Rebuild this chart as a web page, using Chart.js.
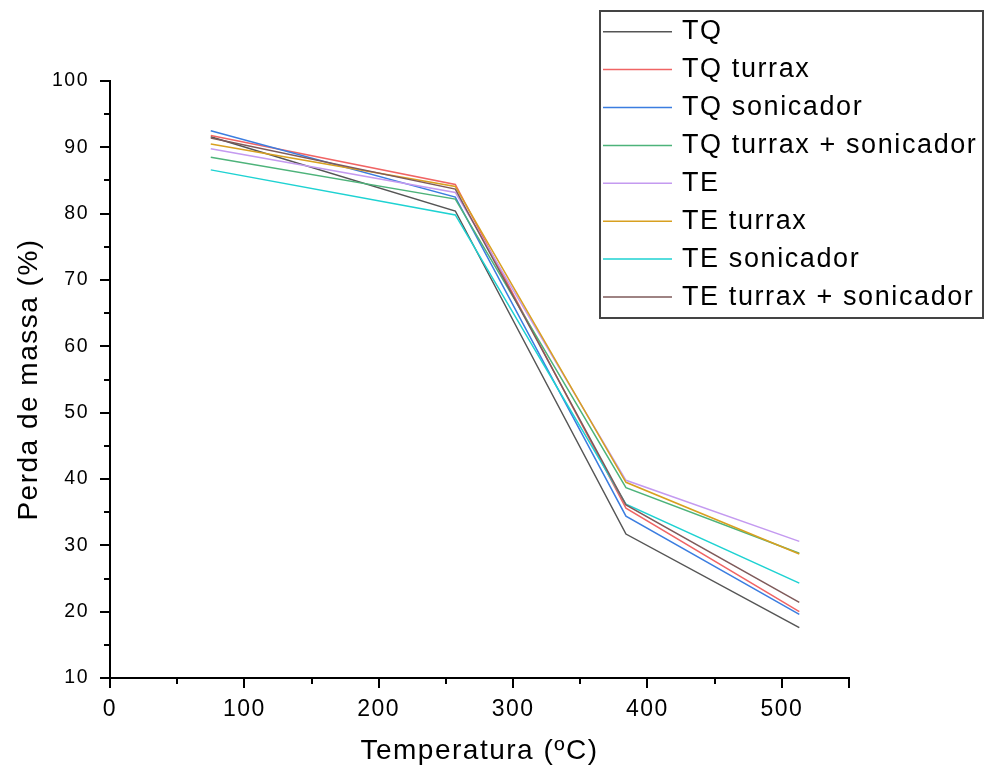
<!DOCTYPE html>
<html>
<head>
  <meta charset="utf-8">
  <title>Perda de massa</title>
  <script src="https://cdn.jsdelivr.net/npm/chart.js@4"></script>
  <style>
    html, body { margin: 0; padding: 0; background: #fff; }
    #wrap { width: 984px; height: 771px; }
  </style>
</head>
<body>
  <div id="wrap"><canvas id="c" width="984" height="771"></canvas></div>
  <script>
    // temperatures (ºC) of each step
    const temps = [75, 257, 384, 513];

    const labels = [
      'TQ', 'TQ turrax', 'TQ sonicador', 'TQ turrax + sonicador',
      'TE', 'TE turrax', 'TE sonicador', 'TE turrax + sonicador'
    ];

    const tq = [91.6, 80.4, 31.7, 17.6];
    const tqTurrax = [91.8, 84.4, 35.6, 20.0];
    const tqSonicador = [92.5, 82.5, 34.4, 19.6];
    const tqTurraxSon = [88.5, 82.2, 38.7, 28.8];
    const te = [89.8, 83.2, 39.8, 30.6];
    const teTurrax = [90.5, 84.1, 39.5, 28.7];
    const teSonicador = [86.6, 79.8, 36.2, 24.3];
    const teTurraxSon = [91.4, 83.7, 36.1, 21.4];

    const series = [tq, tqTurrax, tqSonicador, tqTurraxSon, te, teTurrax, teSonicador, teTurraxSon];
    const colors = ['#555555', '#f06464', '#3b7de0', '#4db37a', '#c49af0', '#d8a020', '#1ed2d2', '#7e5a5a'];

    const xTicks = [0, 100, 200, 300, 400, 500];
    const yTicks = [10, 20, 30, 40, 50, 60, 70, 80, 90, 100];

    const FONT = 'Arial, "Liberation Sans", sans-serif';
    const AREA = { left: 110, right: 849, top: 81, bottom: 678 };

    const spacing = {
      id: 'spacing',
      beforeUpdate(chart) { chart.ctx.letterSpacing = '1.5px'; },
      beforeDraw(chart) { chart.ctx.letterSpacing = '1.5px'; }
    };

    // major + minor tick marks pointing outward
    const tickMarks = {
      id: 'tickMarks',
      afterDraw(chart) {
        const { ctx, scales: { x, y } } = chart;
        ctx.save();
        ctx.strokeStyle = '#000';
        ctx.lineWidth = 2;
        ctx.beginPath();
        for (let v = 0; v <= 550; v += 50) {
          const px = Math.round(x.getPixelForValue(v));
          const len = (v % 100 === 0 || v === 550) ? 10 : 6;
          ctx.moveTo(px, AREA.bottom);
          ctx.lineTo(px, AREA.bottom + len);
        }
        for (let v = 10; v <= 100; v += 5) {
          const py = Math.round(y.getPixelForValue(v));
          const len = v % 10 === 0 ? 10 : 6;
          ctx.moveTo(AREA.left, py);
          ctx.lineTo(AREA.left - len, py);
        }
        ctx.stroke();
        ctx.restore();
      }
    };

    const boxLegend = {
      id: 'boxLegend',
      afterDraw(chart) {
        const ctx = chart.ctx;
        ctx.save();
        ctx.fillStyle = '#fff';
        ctx.fillRect(600, 11, 383, 307);
        ctx.strokeStyle = '#444';
        ctx.lineWidth = 2;
        ctx.strokeRect(600, 11, 383, 307);
        ctx.font = '27px ' + FONT;
        ctx.letterSpacing = '1.6px';
        ctx.textBaseline = 'alphabetic';
        chart.data.datasets.forEach((ds, i) => {
          const ly = 31.7 + i * 37.9;
          ctx.strokeStyle = ds.borderColor;
          ctx.lineWidth = 1.5;
          ctx.beginPath();
          ctx.moveTo(603, ly);
          ctx.lineTo(672, ly);
          ctx.stroke();
          ctx.fillStyle = '#000';
          ctx.fillText(ds.label, 682, ly + 7.6);
        });
        ctx.restore();
      }
    };

    new Chart(document.getElementById('c'), {
      type: 'line',
      data: {
        datasets: series.map((s, i) => ({
          label: labels[i],
          data: s.map((v, j) => ({ x: temps[j], y: v })),
          borderColor: colors[i],
          backgroundColor: colors[i],
          borderWidth: 1.5,
          pointRadius: 0,
          tension: 0,
          order: -i
        }))
      },
      options: {
        responsive: false,
        animation: false,
        layout: { padding: { top: AREA.top, right: 984 - AREA.right, left: 0, bottom: 0 } },
        plugins: { legend: { display: false }, tooltip: { enabled: false } },
        scales: {
          x: {
            type: 'linear',
            min: 0,
            max: 550,
            afterBuildTicks: (s) => { s.ticks = xTicks.map(v => ({ value: v })); },
            afterFit: (s) => { s.height = 771 - AREA.bottom; },
            grid: { display: false },
            border: { display: true, color: '#000', width: 2 },
            ticks: { color: '#000', font: { family: FONT, size: 23 }, padding: 10, maxRotation: 0 },
            title: {
              display: true, text: 'Temperatura (ºC)', color: '#000',
              font: { family: FONT, size: 28 }, padding: { top: 0, bottom: 3 }
            }
          },
          y: {
            type: 'linear',
            min: 10,
            max: 100,
            afterBuildTicks: (s) => { s.ticks = yTicks.map(v => ({ value: v })); },
            afterFit: (s) => { s.width = AREA.left; },
            grid: { display: false },
            border: { display: true, color: '#000', width: 2 },
            ticks: { color: '#000', font: { family: FONT, size: 19.5 }, padding: 13 },
            title: {
              display: true, text: 'Perda de massa (%)', color: '#000',
              font: { family: FONT, size: 28 }, padding: { top: 12, bottom: 0 }
            }
          }
        }
      },
      plugins: [spacing, tickMarks, boxLegend]
    });
  </script>
</body>
</html>
